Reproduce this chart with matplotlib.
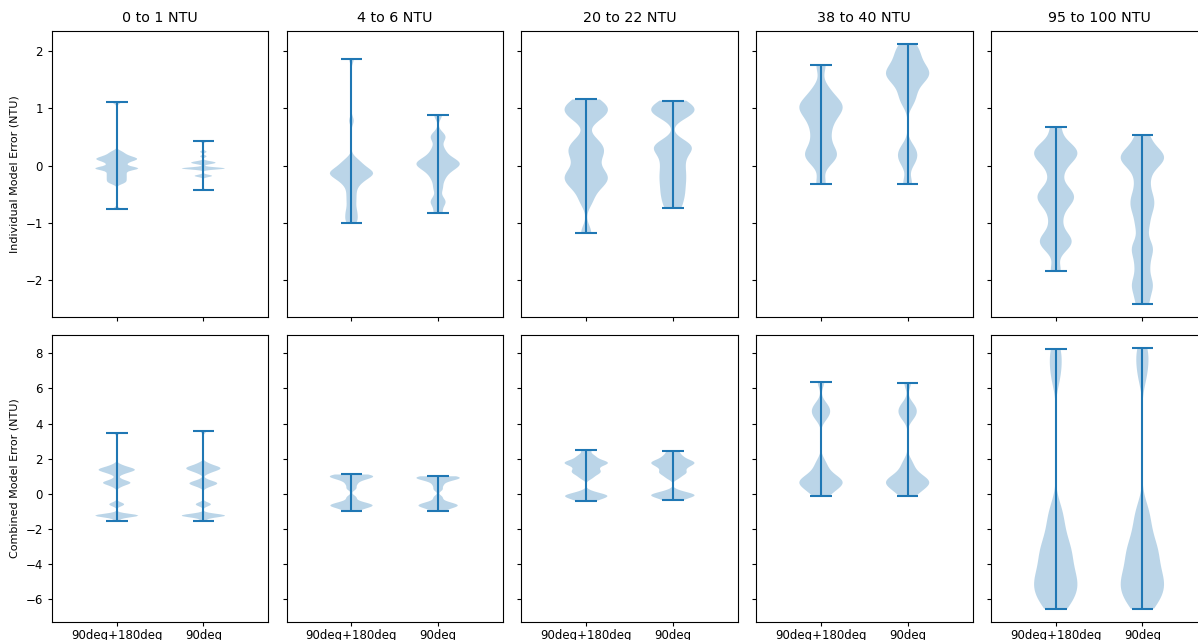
import numpy as np
import matplotlib
matplotlib.use("Agg")
import matplotlib.pyplot as plt

plt.rcParams['xtick.labelsize'] = 8.5
plt.rcParams['ytick.labelsize'] = 8.5
plt.rcParams['axes.titlesize'] = 10.3
plt.rcParams['xtick.major.size'] = 3
plt.rcParams['ytick.major.size'] = 3
plt.rcParams['xtick.major.pad'] = 2.5

# turbidity ranges (one column each)
ranges = ["0 to 1 NTU", "4 to 6 NTU", "20 to 22 NTU", "38 to 40 NTU", "95 to 100 NTU"]
setups = ["90deg+180deg", "90deg"]

# individual model errors (NTU), 90deg+180deg
indiv_both = [
    [-0.76, -0.31, -0.28, -0.25, -0.22, -0.19, -0.16, -0.13, -0.1, -0.06, -0.05, -0.05,
     -0.05, -0.04, 0.0, 0.03, 0.06, 0.08, 0.1, 0.11, 0.12, 0.13, 0.15, 0.17, 0.2, 0.24,
     1.10],
    [-1.0, -0.95, -0.88, -0.82, -0.75, -0.66, -0.58, -0.5, -0.42, -0.35, -0.3, -0.27,
     -0.24, -0.21, -0.19, -0.17, -0.15, -0.14, -0.13, -0.12, -0.1, -0.08, -0.06, -0.03,
     0.0, 0.03, 0.07, 0.12, 0.78, 1.85],
    [-1.17, -0.62, -0.42, -0.32, -0.25, -0.2, -0.14, -0.05, 0.1, 0.2, 0.27, 0.35, 0.45,
     0.8, 0.88, 0.95, 1.0, 1.06, 1.15],
    [-0.32, 0.05, 0.15, 0.2, 0.28, 0.45, 0.6, 0.75, 0.85, 0.95, 1.0, 1.05, 1.1, 1.2,
     1.35, 1.75],
    [-1.83, -1.45, -1.35, -1.3, -1.2, -0.95, -0.72, -0.62, -0.55, -0.48, -0.4, -0.15,
     0.05, 0.12, 0.2, 0.25, 0.3, 0.4, 0.67],
]
# individual model errors (NTU), 90deg only
indiv_90 = [
    [-0.43, -0.19, -0.18, -0.17, -0.06, -0.05, -0.05, -0.05, -0.05, -0.05, -0.04,
     0.03, 0.04, 0.05, 0.06, 0.07, 0.16, 0.24, 0.42],
    [-0.83, -0.66, -0.6, -0.4, -0.25, -0.15, -0.08, -0.03, 0.0, 0.03, 0.05, 0.08, 0.12,
     0.2, 0.3, 0.47, 0.53, 0.88],
    [-0.74, -0.58, -0.45, -0.32, -0.2, -0.08, 0.05, 0.18, 0.28, 0.34, 0.4, 0.85, 0.92,
     0.98, 1.03, 1.13],
    [-0.32, 0.05, 0.18, 0.3, 1.1, 1.25, 1.4, 1.5, 1.55, 1.6, 1.65, 1.7, 1.8, 1.9,
     2.0, 2.12],
    [-2.41, -2.15, -2.02, -1.75, -1.5, -1.38, -1.05, -0.8, -0.65, -0.5, -0.25, 0.0,
     0.08, 0.14, 0.2, 0.3, 0.54],
]
# combined model errors (NTU), 90deg+180deg
comb_both = [
    [-1.54, -1.26, -1.25, -1.24, -1.24, -1.24, -1.24, -1.23, -1.22, -0.65, -0.6, -0.55,
     0.4, 0.52, 0.58, 0.6, 0.65, 0.68, 0.72, 0.85, 1.1, 1.18, 1.25, 1.3, 1.32, 1.35,
     1.38, 1.42, 1.45, 1.48, 1.55, 1.65, 3.48],
    [-1.0, -0.85, -0.75, -0.7, -0.66, -0.62, -0.55, -0.45, -0.2, 0.3, 0.55, 0.75, 0.85,
     0.92, 0.98, 1.02, 1.06, 1.1],
    [-0.42, -0.3, -0.2, -0.12, -0.1, -0.05, 0.1, 0.9, 1.1, 1.2, 1.3, 1.4, 1.55, 1.65,
     1.72, 1.78, 1.82, 1.9, 2.05, 2.2, 2.5],
    [-0.14, 0.1, 0.3, 0.45, 0.55, 0.65, 0.7, 0.8, 0.9, 1.1, 1.4, 1.8, 4.3, 4.6, 4.8,
     5.1, 6.36],
    [-6.54, -6.3, -6.0, -5.7, -5.5, -5.3, -5.1, -4.9, -4.7, -4.4, -4.1, -3.8, -3.4,
     -3.2, -3.0, -2.5, -2.0, -1.4, -0.8, 6.6, 7.5, 8.24],
]
# combined model errors (NTU), 90deg only
comb_90 = [
    [-1.53, -1.26, -1.25, -1.24, -1.24, -1.24, -1.24, -1.23, -1.22, -0.65, -0.6, -0.55,
     0.38, 0.48, 0.54, 0.56, 0.62, 0.65, 0.68, 0.8, 1.15, 1.25, 1.32, 1.36, 1.38, 1.44,
     1.48, 1.5, 1.52, 1.58, 1.65, 1.75, 3.55],
    [-1.0, -0.85, -0.75, -0.7, -0.66, -0.62, -0.55, -0.45, -0.2, 0.25, 0.5, 0.7, 0.8,
     0.86, 0.9, 0.95, 0.98, 1.0],
    [-0.38, -0.25, -0.15, -0.08, -0.05, 0.0, 0.15, 0.9, 1.1, 1.2, 1.3, 1.45, 1.55, 1.65,
     1.72, 1.78, 1.84, 1.92, 2.05, 2.2, 2.42],
    [-0.14, 0.1, 0.3, 0.45, 0.55, 0.65, 0.7, 0.8, 0.9, 1.1, 1.4, 1.8, 4.3, 4.6, 4.8,
     5.1, 6.3],
    [-6.54, -6.3, -6.0, -5.7, -5.5, -5.3, -5.1, -4.9, -4.7, -4.4, -4.1, -3.8, -3.4,
     -3.2, -3.0, -2.5, -2.0, -1.4, -0.8, 6.7, 7.6, 8.28],
]

# kernel widths in NTU (smoothing of each violin)
kw_indiv_both = [0.03, 0.07, 0.13, 0.14, 0.14]
kw_indiv_90 = [0.018, 0.08, 0.11, 0.13, 0.15]
kw_comb_both = [0.1, 0.12, 0.13, 0.32, 0.7]
kw_comb_90 = [0.1, 0.12, 0.13, 0.32, 0.7]

rows = [
    (indiv_both, indiv_90, kw_indiv_both, kw_indiv_90, "Individual Model Error (NTU)"),
    (comb_both, comb_90, kw_comb_both, kw_comb_90, "Combined Model Error (NTU)"),
]

fig, axes = plt.subplots(2, 5, figsize=(11.98, 6.4), dpi=100, sharex=True, sharey='row')
fig.subplots_adjust(left=0.0432, right=1.0078, top=0.952, bottom=0.0286,
                    wspace=0.084, hspace=0.064)

for r, (d_both, d_90, kw_both, kw_90, ylab) in enumerate(rows):
    for c in range(len(ranges)):
        ax = axes[r, c]
        for pos, data, h in zip([1, 2], [d_both[c], d_90[c]], [kw_both[c], kw_90[c]]):
            ax.set_prop_cycle(None)  # keep every violin in C0
            ax.violinplot([data], positions=[pos],
                          bw_method=lambda k, h=h: h / np.std(k.dataset, ddof=1))
        if r == 0:
            ax.set_title(ranges[c])
    axes[r, 0].set_ylabel(ylab, fontsize=8)

for ax in axes[1]:
    ax.set_xticks([1, 2], setups)
axes[0, 0].set_xlim(0.25, 2.75)

fig.savefig("out.png")
